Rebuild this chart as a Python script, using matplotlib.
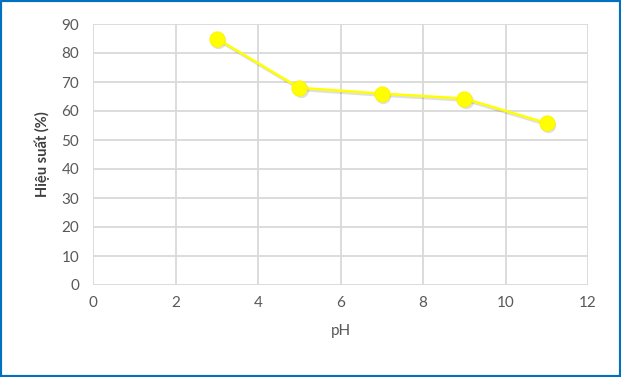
import matplotlib
matplotlib.use("Agg")
import matplotlib.pyplot as plt
from matplotlib.transforms import offset_copy
from matplotlib.patches import Rectangle

ph = [3, 5, 7, 9, 11]
efficiency = [85, 68, 66, 64.3, 55.8]
xticks = [0, 2, 4, 6, 8, 10, 12]
yticks = [0, 10, 20, 30, 40, 50, 60, 70, 80, 90]

plt.rcParams['font.family'] = ['Lato', 'DejaVu Sans']

fig = plt.figure(figsize=(6.21, 3.77), dpi=100)
ax = fig.add_axes([93/621, (377-285)/377, (588-93)/621, (285-24)/377])

grid_c = '#D9D9D9'
ax.set_xlim(0, 12)
ax.set_ylim(0, 90)
ax.set_xticks(xticks)
ax.set_yticks(yticks)
ax.grid(True, color=grid_c, lw=1.3)
ax.set_axisbelow(True)
for s in ax.spines.values():
    s.set_visible(False)
ax.tick_params(length=0, colors='#595959', labelsize=11, pad=8)
ax.tick_params(axis='y', pad=10)

# shadow
shadow_tr = offset_copy(ax.transData, fig=fig, x=1.5, y=-2, units='dots')
ax.plot(ph, efficiency, color='#000000', lw=2, alpha=0.12, transform=shadow_tr,
        marker='o', markersize=11, markeredgewidth=0, zorder=2)
ax.plot(ph, efficiency, color='#FFFF00', lw=1.8, marker='o', markersize=11,
        markerfacecolor='#FFFF00', markeredgecolor='#FFF200', markeredgewidth=0.6, zorder=3,
        clip_on=False)

ax.set_xlabel('pH', color='#595959', fontsize=11, labelpad=10)
ax.set_ylabel('Hiệu suất (%)', color='#404040', fontsize=10.5, fontweight='bold', labelpad=8)

fig.patches.append(Rectangle((0, 0), 1, 1, transform=fig.transFigure, fill=False,
                             edgecolor='#0070C0', lw=3, zorder=10))

fig.savefig('out.png', dpi=100)
